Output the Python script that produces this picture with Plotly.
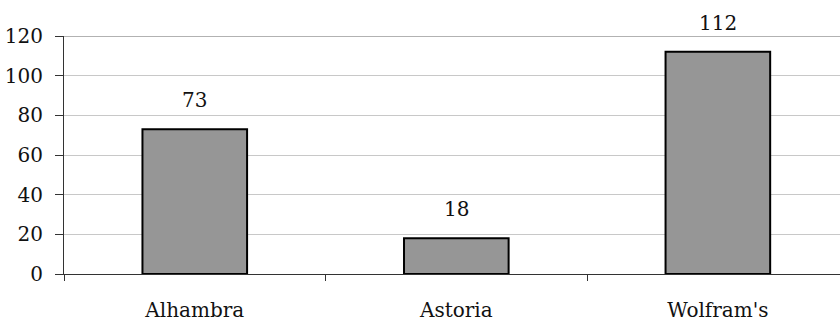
import plotly.graph_objects as go

# Venue counts
categories = ["Alhambra", "Astoria", "Wolfram's"]
values = [73, 18, 112]
y_ticks = [0, 20, 40, 60, 80, 100, 120]

FONT = "DejaVu Serif"
FONT_SIZE = 20

fig = go.Figure(
    go.Bar(
        x=categories,
        y=values,
        width=0.4,
        marker=dict(color="#969696", line=dict(color="#000000", width=2)),
        showlegend=False,
    )
)

# Value labels above each bar
for cat, val in zip(categories, values):
    fig.add_annotation(
        x=cat, y=val, text=str(val), showarrow=False,
        yanchor="middle", yshift=29,
        font=dict(family=FONT, size=FONT_SIZE, color="#111111"),
    )

# Top frame line of the plot area
fig.add_shape(
    type="line", xref="paper", yref="y", x0=0, x1=1, y0=y_ticks[-1], y1=y_ticks[-1],
    line=dict(color="#999999", width=1.5), layer="above",
)

fig.update_layout(
    width=840, height=322,
    margin=dict(l=64, r=0, t=36, b=46),
    paper_bgcolor="#ffffff", plot_bgcolor="#ffffff",
    font=dict(family=FONT, size=FONT_SIZE, color="#111111"),
    bargap=0.6,
)

fig.update_xaxes(
    range=[-0.5, 2.467],
    showgrid=False,
    showline=True, linecolor="#333333", linewidth=1,
    ticks="outside", tickson="boundaries", ticklen=6, tickcolor="#333333",
    ticklabelstandoff=18,
    tickfont=dict(family=FONT, size=FONT_SIZE),
)

fig.update_yaxes(
    range=[0, 120],
    tickvals=y_ticks,
    showgrid=True, gridcolor="#c8c8c8", gridwidth=1,
    showline=True, linecolor="#333333", linewidth=1,
    ticks="outside", ticklen=8, tickcolor="#333333",
    ticklabelstandoff=8,
    zeroline=False,
    tickfont=dict(family=FONT, size=FONT_SIZE),
)

fig.write_html("out.html")
